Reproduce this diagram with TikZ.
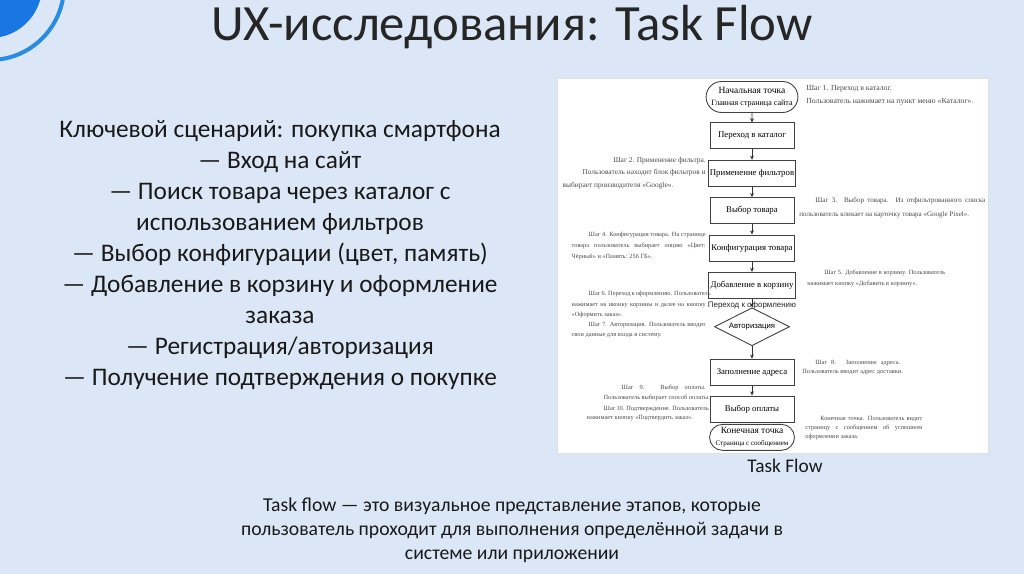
\documentclass[tikz,border=0pt]{standalone}
\usepackage{fontspec}
\setmainfont{Carlito}
\newfontfamily\docfont{Liberation Serif}
\newfontfamily\labelfont{Liberation Sans}
\usetikzlibrary{shapes.geometric,shapes.misc,arrows.meta,positioning,calc}
\definecolor{slidebg}{HTML}{DBE7F6}
\definecolor{discblue}{HTML}{1976E3}
\definecolor{ringblue}{HTML}{2A8BE3}
\definecolor{notegray}{HTML}{4A4A4A}
\definecolor{titlegray}{HTML}{262626}
\newcommand{\spreadline}[2]{\makebox[#1][s]{#2}}

\begin{document}
\begin{tikzpicture}[
    x=0.02cm, y=-0.02cm,
    node distance=0.21cm,
    stepbox/.style={rectangle, draw=black!75, line width=0.5pt, fill=white, minimum width=1.68cm, minimum height=0.52cm, inner sep=1pt, font=\docfont\fontsize{5.0}{6}\selectfont},
    terminal/.style={rounded rectangle, draw=black!75, line width=0.5pt, fill=white, align=center, inner sep=1pt, font=\docfont\fontsize{5.4}{6.6}\selectfont},
    decision/.style={diamond, draw=black!75, line width=0.5pt, fill=white, aspect=1.9, minimum width=1.5cm, minimum height=0.76cm, inner sep=0pt, font=\labelfont\fontsize{4.4}{5}\selectfont},
    note/.style={font=\docfont\fontsize{3.6}{#1}\selectfont, text=notegray, inner sep=0pt},
    note/.default=6.0,
    arrow/.style={-{Stealth[length=2.4pt,width=2.2pt]}, line width=0.4pt, draw=black!80}
]
    \useasboundingbox (0,0) rectangle (1024,574);
    \fill [slidebg] (0,0) rectangle (1024,574);
    \begin{scope}
        \clip (0,0) rectangle (1024,574);
        \fill [discblue] (-10,-14) circle (1.04cm);
        \draw [ringblue, line width=2.3pt] (-10,-14) circle (1.48cm);
    \end{scope}

    \node [font=\fontsize{28.9}{32}\selectfont, text=titlegray] (title) at (512,27) {UX-исследования: Task Flow};

    \node [font=\fontsize{14.4}{17.6}\selectfont, align=center, text=black!90] (scenario) at (280,255) {Ключевой сценарий: покупка смартфона\\— Вход на сайт\\— Поиск товара через каталог с\\использованием фильтров\\— Выбор конфигурации (цвет, память)\\— Добавление в корзину и оформление\\заказа\\— Регистрация/авторизация\\— Получение подтверждения о покупке};

    \node [fill=white, draw=black!12, minimum width=8.62cm, minimum height=7.5cm, inner sep=0pt] (shot) at (772.5,265.5) {};

    \node [terminal, minimum width=1.78cm, minimum height=0.62cm] (start) at (752,97) {Начальная точка\\{\fontsize{4.6}{5.6}\selectfont Главная страница сайта}};
    \node [stepbox, below=0.19cm of start] (catalog) {Переход в каталог};
    \node [stepbox, below=of catalog] (filter) {Применение фильтров};
    \node [stepbox, below=of filter] (product) {Выбор товара};
    \node [stepbox, below=of product] (config) {Конфигурация товара};
    \node [stepbox, below=of config] (cart) {Добавление в корзину};
    \node [decision, below=0.17cm of cart] (auth) {Авторизация};
    \node [stepbox, below=0.25cm of auth] (address) {Заполнение адреса};
    \node [stepbox, below=0.2cm of address] (payment) {Выбор оплаты};
    \node [terminal, minimum width=1.52cm, minimum height=0.52cm, below=0.03cm of payment] (finish) {Конечная точка\\{\fontsize{4.0}{4.9}\selectfont Страница с сообщением}};
    \node [font=\labelfont\fontsize{4.5}{5}\selectfont, text=black!85] (checkout) at ($(cart.south)!0.78!(auth.north)$) {Переход к оформлению};

    \draw [arrow] (start) -- (catalog);
    \draw [arrow] (catalog) -- (filter);
    \draw [arrow] (filter) -- (product);
    \draw [arrow] (product) -- (config);
    \draw [arrow] (config) -- (cart);
    \draw [arrow] (cart) -- (auth);
    \draw [arrow] (auth) -- (address);
    \draw [arrow] (address) -- (payment);

    \node [note=7.4, font=\docfont\fontsize{4.4}{7.4}\selectfont, align=left, anchor=north west] (note1) at (806,85) {Шаг 1. Переход в каталог.\\Пользователь нажимает на пункт меню «Каталог».};
    \node [note=7.1, font=\docfont\fontsize{4.2}{7.1}\selectfont, align=right, anchor=north east] (note2) at (706,157) {Шаг 2. Применение фильтра.\\Пользователь находит блок фильтров и\\\makebox[2.86cm][l]{выбирает производителя «Google».}};
    \node [note=8.0, font=\docfont\fontsize{4.0}{8.0}\selectfont, align=left, anchor=north west] (note3) at (799,197) {\spreadline{3.72cm}{\hspace*{0.32cm}Шаг 3. Выбор товара. Из отфильтрованного списка}\\пользователь кликает на карточку товара «Google Pixel».};
    \node [note=6.3, align=left, anchor=north east] (note4) at (706,232) {\spreadline{2.68cm}{\hspace*{0.34cm}Шаг 4. Конфигурация товара. На странице}\\\spreadline{2.68cm}{товара пользователь выбирает опцию «Цвет:}\\Чёрный» и «Память: 256 ГБ».};
    \node [note=6.3, align=left, anchor=north west] (note5) at (807,270) {\spreadline{2.76cm}{\hspace*{0.34cm}Шаг 5. Добавление в корзину. Пользователь}\\нажимает кнопку «Добавить в корзину».};
    \node [note=6.0, align=left, anchor=north east] (note6) at (706,291) {\spreadline{2.68cm}{\hspace*{0.34cm}Шаг 6. Переход к оформлению. Пользователь}\\\spreadline{2.68cm}{нажимает на иконку корзины и далее на кнопку}\\«Оформить заказ».};
    \node [note=5.7, align=left, anchor=north east] (note7) at (706,322) {\spreadline{2.68cm}{\hspace*{0.34cm}Шаг 7. Авторизация. Пользователь вводит}\\\makebox[2.68cm][l]{свои данные для входа в систему.}};
    \node [note=5.2, align=left, anchor=north west] (note8) at (802,360) {\spreadline{1.96cm}{\hspace*{0.26cm}Шаг 8. Заполнение адреса.}\\Пользователь вводит адрес доставки.};
    \node [note=5.7, align=left, anchor=north east] (note9) at (706,385) {\spreadline{2.04cm}{\hspace*{0.36cm}Шаг 9. Выбор оплаты.}\\\makebox[2.04cm][l]{Пользователь выбирает способ оплаты.}};
    \node [note=5.2, align=left, anchor=north east] (note10) at (706,406) {\spreadline{2.38cm}{\hspace*{0.34cm}Шаг 10. Подтверждение. Пользователь}\\\makebox[2.38cm][l]{нажимает кнопку «Подтвердить заказ».}};
    \node [note=5.2, align=left, anchor=north west] (note11) at (805,416) {\spreadline{2.34cm}{\hspace*{0.3cm}Конечная точка. Пользователь видит}\\\spreadline{2.34cm}{страницу с сообщением об успешном}\\оформлении заказа.};

    \node [font=\fontsize{11}{13}\selectfont, text=black!90] (caption) at (785,466) {Task Flow};

    \node [font=\fontsize{11.2}{13.7}\selectfont, align=center, text=black!90] (summary) at (512,530) {Task flow — это визуальное представление этапов, которые\\пользователь проходит для выполнения определённой задачи в\\системе или приложении};
\end{tikzpicture}
\end{document}
